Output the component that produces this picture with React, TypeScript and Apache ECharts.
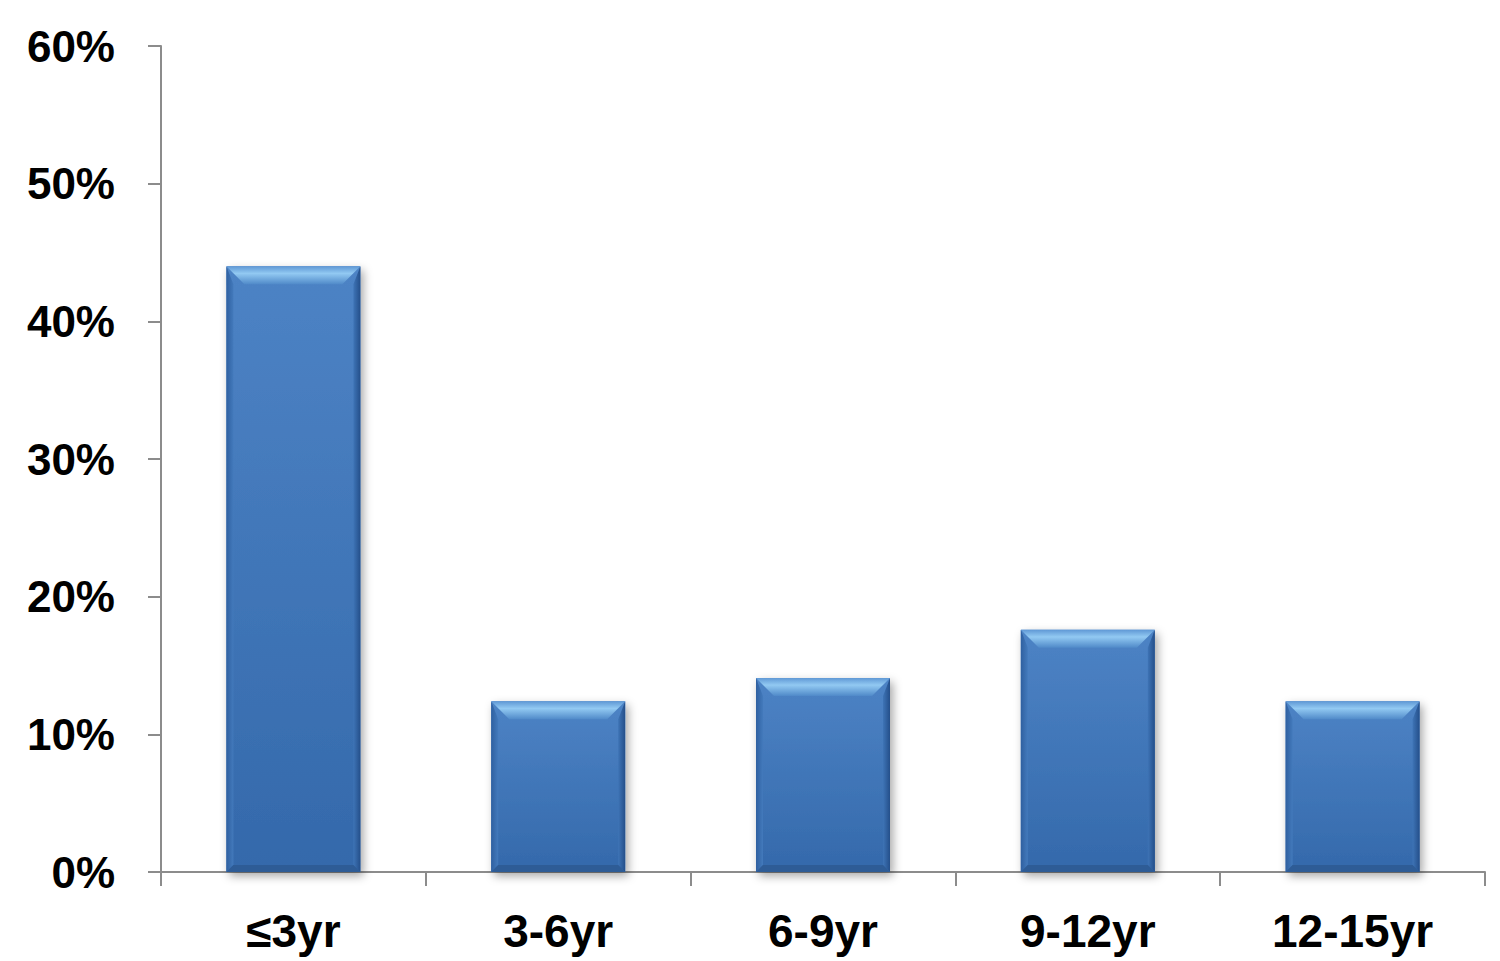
import React, { useEffect, useRef } from "react";
import * as echarts from "echarts";

const categories = ["≤3yr", "3-6yr", "6-9yr", "9-12yr", "12-15yr"];
const shares = [44.0, 12.4, 14.1, 17.6, 12.4];
const yTicks = [0, 10, 20, 30, 40, 50, 60];

const App = () => {
  const chartRef = useRef<HTMLDivElement>(null);

  useEffect(() => {
    const chartDom = chartRef.current;
    if (!chartDom) return;
    const myChart = echarts.init(chartDom, null, { renderer: "svg" });

    // bevelled bar like the office chart style
    const renderBar = (params: any, api: any) => {
      const idx = api.value(0);
      const val = api.value(1);
      const top = api.coord([idx, val]);
      const base = api.coord([idx, 0]);
      const bw = api.size([1, 0])[0] * 0.506;
      const l = top[0] - bw / 2;
      const r = top[0] + bw / 2;
      const t = top[1];
      const b = base[1];
      const bev = 18;
      const side = 7;
      const bot = 7;
      return {
        type: "group",
        children: [
          {
            type: "rect",
            shape: { x: l, y: t, width: bw, height: b - t },
            style: {
              fill: new echarts.graphic.LinearGradient(0, 0, 0, 1, [
                { offset: 0, color: "#4d83c5" },
                { offset: 1, color: "#3469ab" },
              ]),
              shadowBlur: 10,
              shadowOffsetX: 3,
              shadowOffsetY: 4,
              shadowColor: "rgba(0,0,0,0.35)",
            },
          },
          {
            type: "polygon",
            shape: { points: [[l, t], [l + side, t + bev], [l + side, b - bot], [l, b]] },
            style: {
              fill: new echarts.graphic.LinearGradient(0, 0, 1, 0, [
                { offset: 0, color: "#2f60a0" },
                { offset: 1, color: "#437abc" },
              ]),
            },
          },
          {
            type: "polygon",
            shape: { points: [[r, t], [r - side, t + bev], [r - side, b - bot], [r, b]] },
            style: {
              fill: new echarts.graphic.LinearGradient(1, 0, 0, 0, [
                { offset: 0, color: "#244f8a" },
                { offset: 1, color: "#3e74b6" },
              ]),
            },
          },
          {
            type: "polygon",
            shape: { points: [[l, b], [r, b], [r - side, b - bot], [l + side, b - bot]] },
            style: { fill: "#2e5c96" },
          },
          {
            type: "polygon",
            shape: { points: [[l, t], [r, t], [r - bev, t + bev], [l + bev, t + bev]] },
            style: {
              fill: new echarts.graphic.LinearGradient(0, 0, 0, 1, [
                { offset: 0, color: "#5f98d5" },
                { offset: 0.4, color: "#92c9f2" },
                { offset: 1, color: "#508ac9" },
              ]),
            },
          },
        ],
      };
    };

    const option = {
      animation: false,
      grid: { left: 161, right: 15, top: 46, bottom: 89 },
      xAxis: {
        type: "category",
        data: categories,
        axisLine: { lineStyle: { color: "#8c8c8c", width: 2 } },
        axisTick: { show: true, length: 14, lineStyle: { color: "#8c8c8c", width: 2 } },
        axisLabel: {
          color: "#000",
          fontFamily: "Liberation Sans, Arial, sans-serif",
          fontWeight: "bold",
          fontSize: 46,
          margin: 36,
        },
      },
      yAxis: {
        type: "value",
        min: yTicks[0],
        max: yTicks[yTicks.length - 1],
        interval: 10,
        splitLine: { show: false },
        axisLine: { show: true, lineStyle: { color: "#8c8c8c", width: 2 } },
        axisTick: { show: true, length: 13, lineStyle: { color: "#8c8c8c", width: 2 } },
        axisLabel: {
          color: "#000",
          fontFamily: "Liberation Sans, Arial, sans-serif",
          fontWeight: "bold",
          fontSize: 44,
          margin: 46,
          formatter: (v: number) => v + "%",
        },
      },
      series: [
        {
          type: "custom",
          renderItem: renderBar,
          data: shares.map((v, i) => [i, v]),
          encode: { x: 0, y: 1 },
        },
      ],
    };

    myChart.setOption(option as any);

    const onResize = function () {
      myChart.resize();
    };
    window.addEventListener("resize", onResize, false);

    return () => {
      window.removeEventListener("resize", onResize, false);
      myChart.dispose();
    };
  }, []);

  return (
    <div
      ref={chartRef}
      style={{ position: "absolute", left: 0, top: 0, width: 1500, height: 961, background: "#fff" }}
    ></div>
  );
};

export default App;
